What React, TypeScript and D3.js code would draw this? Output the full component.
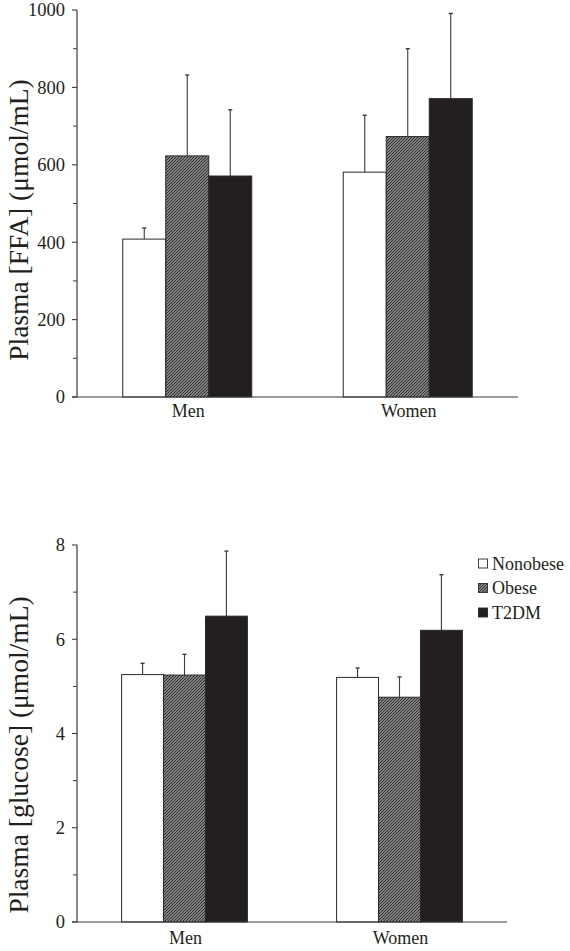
import React from "react";
import * as d3 from "d3";

const categories = ["Men", "Women"];
const series = ["Nonobese", "Obese", "T2DM"];

const ffaMen = [408, 623, 571];
const ffaWomen = [581, 673, 771];
const ffaErrMen = [29, 209, 171];
const ffaErrWomen = [147, 227, 220];
const ffaTicks = [0, 200, 400, 600, 800, 1000];
const ffaMinor = [100, 300, 500, 700, 900];

const gluMen = [5.25, 5.24, 6.49];
const gluWomen = [5.19, 4.77, 6.19];
const gluErrMen = [0.24, 0.44, 1.38];
const gluErrWomen = [0.2, 0.43, 1.18];
const gluTicks = [0, 2, 4, 6, 8];
const gluMinor = [1, 3, 5, 7];

const FONT = "'Liberation Serif', 'Times New Roman', serif";
const TXT = "#231f20";
const AX = "#3a3a3a";
const fills = ["#ffffff", "url(#hatch)", "#231f20"];

type PanelProps = {
  means: number[][];
  errs: number[][];
  domain: [number, number];
  ticks: number[];
  minor: number[];
  yTop: number;
  yBottom: number;
  xLeft: number;
  xRight: number;
  title: string;
  titleY: number;
  labelY: number;
};

function Panel(p: PanelProps) {
  const y = d3.scaleLinear().domain(p.domain).range([p.yBottom, p.yTop]);
  const x0 = d3.scaleBand<string>().domain(categories).range([p.xLeft, p.xRight]).padding(0);
  const groupW = x0.bandwidth() * 0.585;
  const x1 = d3.scaleBand<string>().domain(series).range([0, groupW]).padding(0);
  return (
    <g>
      {categories.map((c, ci) => {
        const gx = (x0(c) as number) + x0.bandwidth() / 2 - groupW / 2;
        return (
          <g key={c}>
            {series.map((s, si) => {
              const v = p.means[ci][si];
              const e = p.errs[ci][si];
              const bx = gx + (x1(s) as number);
              const bw = x1.bandwidth();
              const cx = bx + bw / 2;
              return (
                <g key={s}>
                  <line x1={cx} x2={cx} y1={y(v)} y2={y(v + e)} stroke={AX} strokeWidth={1.1} />
                  <line x1={cx - 2} x2={cx + 2} y1={y(v + e)} y2={y(v + e)} stroke={AX} strokeWidth={1.4} />
                  <rect x={bx} y={y(v)} width={bw} height={y(0) - y(v)} fill={fills[si]} stroke="#2a2a2a" strokeWidth={1} />
                </g>
              );
            })}
            <text x={(x0(c) as number) + x0.bandwidth() / 2 + 1} y={p.labelY} textAnchor="middle" fontSize={18} fontFamily={FONT} fill={TXT}>
              {c}
            </text>
          </g>
        );
      })}
      <line x1={p.xLeft} x2={p.xLeft} y1={y(p.domain[1])} y2={y(0)} stroke={AX} strokeWidth={1.2} />
      <line x1={p.xLeft - 5} x2={p.xRight} y1={y(0)} y2={y(0)} stroke={AX} strokeWidth={1.2} />
      {p.ticks.map((t) => (
        <g key={"t" + t}>
          <line x1={p.xLeft - 5} x2={p.xLeft} y1={y(t)} y2={y(t)} stroke={AX} strokeWidth={1.1} />
          <text x={p.xLeft - 12} y={y(t)} dy="0.35em" textAnchor="end" fontSize={18.5} fontFamily={FONT} fill={TXT}>
            {t}
          </text>
        </g>
      ))}
      {p.minor.map((t) => (
        <line key={"m" + t} x1={p.xLeft - 4} x2={p.xLeft} y1={y(t)} y2={y(t)} stroke={AX} strokeWidth={1} />
      ))}
      <text
        transform={`translate(28,${p.titleY}) rotate(-90)`}
        textAnchor="middle"
        fontSize={27.5}
        fontFamily={FONT}
        fill={TXT}
      >
        {p.title}
      </text>
    </g>
  );
}

export default function App() {
  const legendY = [563.5, 588, 612.5];
  return (
    <svg width={570} height={951} style={{ position: "absolute", left: 0, top: 0, background: "#fff" }}>
      <defs>
        <pattern id="hatch" width={3} height={3} patternUnits="userSpaceOnUse">
          <rect width={3} height={3} fill="#a8a8a8" />
          <path d="M-1,1 L1,-1 M0,3 L3,0 M2,4 L4,2" stroke="#262626" strokeWidth={1.1} />
        </pattern>
      </defs>
      <rect width={570} height={951} fill="#fff" />
      <Panel
        means={[ffaMen, ffaWomen]}
        errs={[ffaErrMen, ffaErrWomen]}
        domain={[0, 1000]}
        ticks={ffaTicks}
        minor={ffaMinor}
        yTop={10}
        yBottom={397}
        xLeft={77}
        xRight={518}
        title="Plasma [FFA] (μmol/mL)"
        titleY={220}
        labelY={417}
      />
      <Panel
        means={[gluMen, gluWomen]}
        errs={[gluErrMen, gluErrWomen]}
        domain={[0, 8]}
        ticks={gluTicks}
        minor={gluMinor}
        yTop={545}
        yBottom={922}
        xLeft={77}
        xRight={507}
        title="Plasma [glucose] (μmol/mL)"
        titleY={755}
        labelY={944}
      />
      {series.map((s, i) => (
        <g key={s}>
          <rect x={478.5} y={legendY[i] - 4.5} width={9} height={9} fill={fills[i]} stroke="#2a2a2a" strokeWidth={0.9} />
          <text x={492} y={legendY[i]} dy="0.35em" fontSize={18} fontFamily={FONT} fill={TXT}>
            {s}
          </text>
        </g>
      ))}
    </svg>
  );
}
